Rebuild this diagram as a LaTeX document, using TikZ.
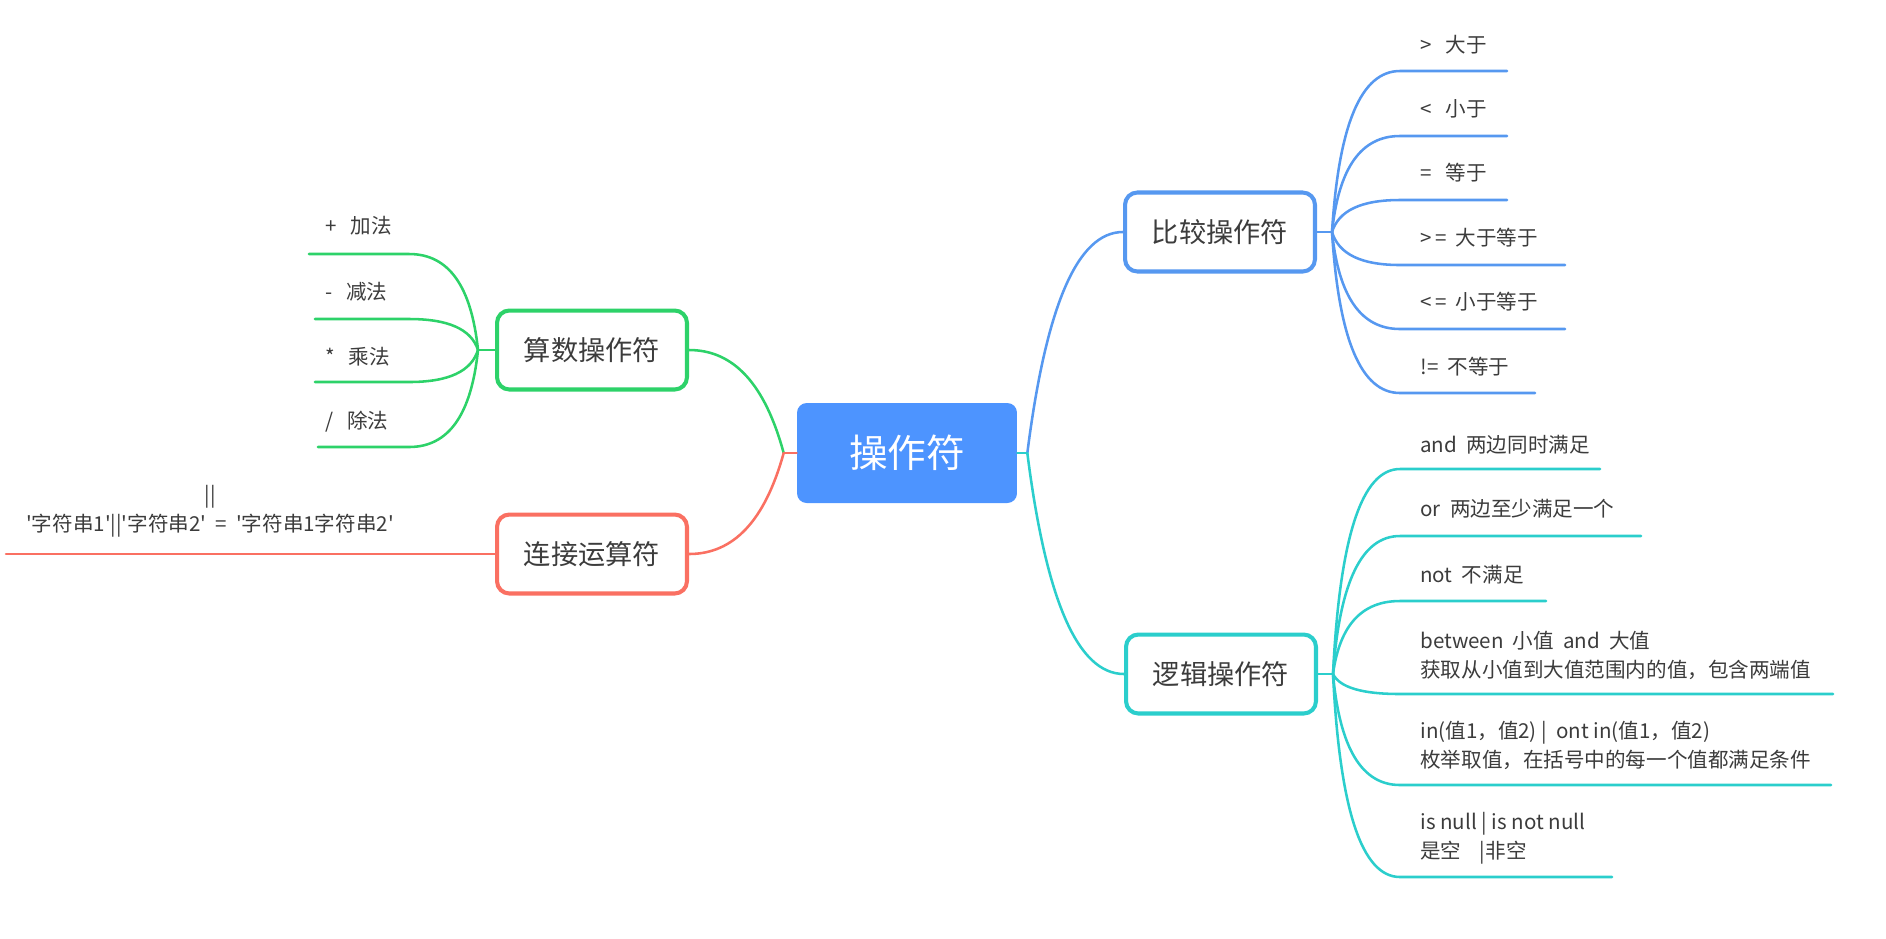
\documentclass[tikz,border=0pt]{standalone}
\usepackage{fontspec}
\setmainfont{Noto Sans CJK SC}
\usetikzlibrary{calc,positioning}
\definecolor{rootblue}{RGB}{77,148,255}
\definecolor{cmpblue}{RGB}{86,152,240}
\definecolor{logteal}{RGB}{43,206,204}
\definecolor{arigreen}{RGB}{45,210,105}
\definecolor{catred}{RGB}{250,112,98}
\definecolor{txtgray}{RGB}{60,60,60}
\newcommand{\squote}{\textquotesingle}
\tikzset{
  root/.style   = {fill=rootblue, text=white, rounded corners=5.5pt,
                   minimum width=4.4cm, minimum height=2cm,
                   font=\fontsize{22}{26}\selectfont},
  topic/.style  = {draw, line width=2.3pt, fill=white, rounded corners=7pt,
                   minimum width=3.8cm, minimum height=1.58cm, text=txtgray,
                   font=\fontsize{15.5}{18}\selectfont},
  leaf/.style   = {anchor=west, align=left, inner sep=0pt, text=txtgray,
                   font=\fontsize{11.7}{16.5}\selectfont},
  branch/.style = {line width=1.45pt, line cap=round},
}

\begin{document}
\begin{tikzpicture}[x=0.02cm, y=-0.02cm]
  \useasboundingbox (0,0) rectangle (1886,938);
  % topics
  \node[root] (root) at (907,453) {操作符};
  \node[topic, draw=cmpblue] (cmp) at (1220,232) {比较操作符};
  \node[topic, draw=logteal] (log) at (1221,674) {逻辑操作符};
  \node[topic, draw=arigreen] (ari) at (592,350) {算数操作符};
  \node[topic, draw=catred] (cat) at (592,554) {连接运算符};
  % main branches
  \coordinate (rf) at ($(root.east)+(10,0)$);
  \coordinate (lf) at ($(root.west)+(-13,0)$);
  \foreach \t/\c/\f/\a/\d in {cmp/cmpblue/rf/west/28, log/logteal/rf/west/28,
      ari/arigreen/lf/east/-28, cat/catred/lf/east/-28}{
    \coordinate (k) at ($(\f |- \t.\a)+(\d,0)$);
    \draw[branch,\c] (\f) .. controls ($(\f)!.67!(k)$) and ($(\t.\a)!.67!(k)$) .. (\t.\a);
  }
  \draw[branch,logteal] (root.east) -- (rf);
  \draw[branch,catred] (root.west) -- (lf);
  % comparison
  \coordinate (cf) at ($(cmp.east)+(15,0)$);
  \draw[branch,cmpblue] (cmp.east) -- (cf);
  \foreach \ty/\ly/\ex/\txt [count=\i] in {45/71/1507/{>\ \ \ 大于}, 109/136/1507/{<\ \ \ 小于},
      173/200/1507/{=\ \ \ 等于}, 238/265/1565/{>\,=\ \ 大于等于}, 302/329/1565/{<\,=\ \ 小于等于},
      367/393/1535/{!=\ \ 不等于}}{
    \node[leaf] (c\i) at (1420,\ty) {\txt};
    \coordinate (cs\i) at (1400,\ly);
    \coordinate (ce\i) at (\ex,\ly);
    \coordinate (k) at ($(cf |- cs\i)+(10,0)$);
    \draw[branch,cmpblue] (cf) .. controls ($(cf)!.67!(k)$) and ($(cs\i)!.67!(k)$) .. (cs\i) -- (ce\i);
  }
  % logic
  \coordinate (gf) at ($(log.east)+(15,0)$);
  \draw[branch,logteal] (log.east) -- (gf);
  \foreach \ty/\ly/\ex/\txt [count=\i] in {445/469/1600/{and\ \ 两边同时满足},
      509/536/1641/{or\ \ 两边至少满足一个}, 575/601/1546/{not\ \ 不满足},
      655/694/1833/{between\ \ 小值\ \ and\ \ 大值\\获取从小值到大值范围内的值，包含两端值},
      745/785/1831/{in(值1，值2) |\ \ ont in(值1，值2)\\枚举取值，在括号中的每一个值都满足条件},
      838/877/1612/{is null | is not null\\是空\ \ \ \ |非空}}{
    \node[leaf] (g\i) at (1420,\ty) {\txt};
    \coordinate (gs\i) at (1400,\ly);
    \coordinate (ge\i) at (\ex,\ly);
    \coordinate (k) at ($(gf |- gs\i)+(10,0)$);
    \draw[branch,logteal] (gf) .. controls ($(gf)!.67!(k)$) and ($(gs\i)!.67!(k)$) .. (gs\i) -- (ge\i);
  }
  % arithmetic
  \coordinate (af) at ($(ari.west)+(-17,0)$);
  \draw[branch,arigreen] (ari.west) -- (af);
  \foreach \ty/\ly/\ex/\txt [count=\i] in {226/254/309/{+\ \ \ 加法}, 292/319/315/{-\ \ \ 减法},
      357/382/315/{*\ \ \ 乘法}, 422/447/318/{/\ \ \ 除法}}{
    \node[leaf] (a\i) at (325,\ty) {\txt};
    \coordinate (as\i) at (409,\ly);
    \coordinate (ae\i) at (\ex,\ly);
    \coordinate (k) at ($(af |- as\i)+(-10,0)$);
    \draw[branch,arigreen] (af) .. controls ($(af)!.67!(k)$) and ($(as\i)!.67!(k)$) .. (as\i) -- (ae\i);
  }
  % concatenation
  \node[leaf, anchor=center, align=center] (j1) at (210,511)
    {||\\\squote 字符串1\squote||\squote 字符串2\squote\ \ =\ \ \squote 字符串1字符串2\squote};
  \coordinate (je) at (6,554);
  \draw[branch,catred] (cat.west) -- (je);
\end{tikzpicture}
\end{document}
